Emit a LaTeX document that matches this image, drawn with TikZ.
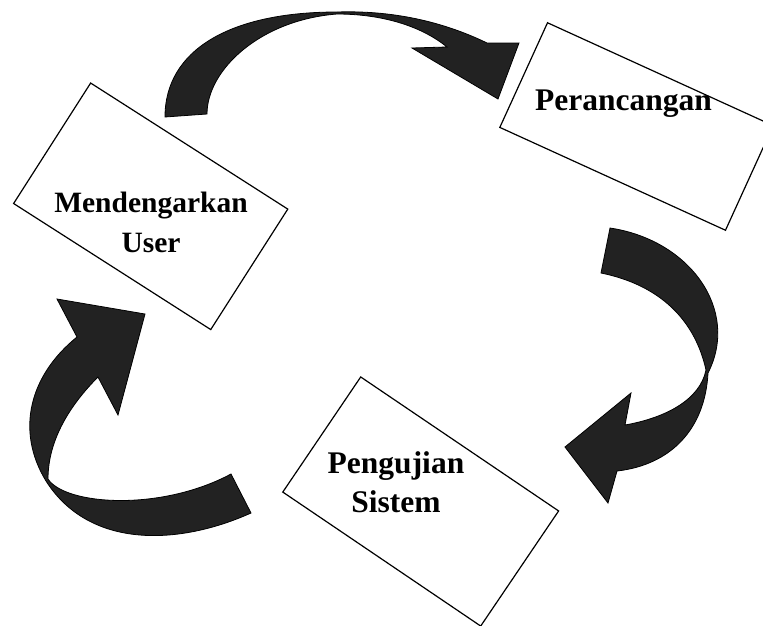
\documentclass[tikz,border=0pt]{standalone}
\usepackage{fontspec}
\setmainfont{Liberation Serif}
\definecolor{gelap}{RGB}{34,34,34}

\begin{document}
\begin{tikzpicture}[x=1pt,y=-1pt,
    kotak/.style={draw=black,fill=white,line width=1.2pt,rectangle,inner sep=0pt},
    teks/.style={align=center,inner sep=0pt},
    panah/.style={draw=black,fill=gelap,line width=0.8pt,line join=miter}]
        \useasboundingbox (0,0) rectangle (763,625);
        % Panah atas (ke Perancangan)
        \filldraw[panah] (165,117) .. controls (165,50) and (230,12) .. (337,12)
            .. controls (400,10) and (450,25) .. (487,43) -- (519,43) -- (498,99) -- (412,48) -- (447,47)
            .. controls (420,25) and (380,14) .. (337,14)
            .. controls (260,20) and (207,70) .. (207,114) -- cycle;
        % Panah kanan (ke Pengujian Sistem)
        \filldraw[panah] (610,228) .. controls (690,240) and (740,310) .. (708,373)
            .. controls (705,430) and (670,465) .. (617,471) -- (608,503) -- (565,447) -- (631,393) -- (625,425)
            .. controls (665,418) and (700,400) .. (706,370)
            .. controls (695,320) and (660,285) .. (601,273) -- cycle;
        % Panah kiri (ke Mendengarkan User)
        \filldraw[panah] (145,314) -- (118,415) -- (98,377)
            .. controls (70,405) and (48,440) .. (48,479)
            .. controls (65,505) and (160,512) .. (231,474) -- (251,513)
            .. controls (180,545) and (90,550) .. (46,481)
            .. controls (15,430) and (30,375) .. (77,337) -- (57,299) -- cycle;
        % Kotak
        \node[kotak,minimum width=234pt,minimum height=143pt,rotate=-32.6] (user) at (150.7,206.3) {};
        \node[kotak,minimum width=248pt,minimum height=115pt,rotate=-24.5] (rancang) at (636.5,126.5) {};
        \node[kotak,minimum width=239pt,minimum height=139pt,rotate=-34.1] (uji) at (420.7,501.5) {};
        % Tulisan di dalam kotak
        \node[teks,font=\bfseries\fontsize{29.5}{40}\selectfont] (teksuser) at (151,222) {Mendengarkan\\User};
        \node[teks,font=\bfseries\fontsize{31.5}{39}\selectfont,anchor=base] (teksrancang) at (623.5,110) {Perancangan};
        \node[teks,font=\bfseries\fontsize{31.5}{39}\selectfont] (teksuji) at (396,482) {Pengujian\\Sistem};
    \end{tikzpicture}
\end{document}
